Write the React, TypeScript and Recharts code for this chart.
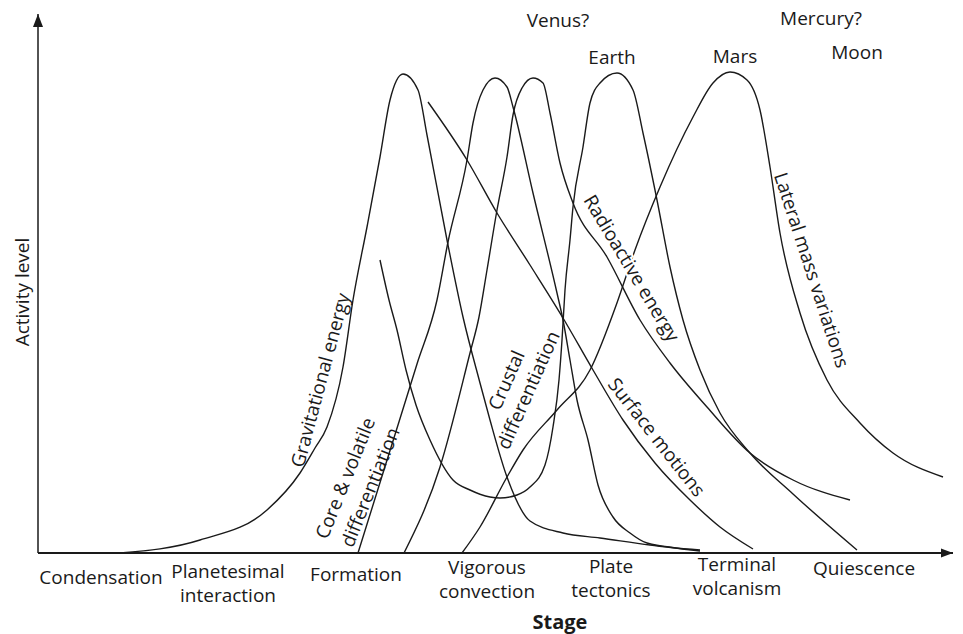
import React from 'react';
import { LineChart, Line, XAxis, YAxis, ReferenceDot, ReferenceLine } from 'recharts';

const FONT = '"Open Sans", "Noto Sans", sans-serif';
const INK = '#1a1a1a';
const SIZE = 19;

// stage runs 0..91.5, activity level 0..107.8 (arbitrary units)
const stages = [
  'Condensation',
  'Planetesimal\ninteraction',
  'Formation',
  'Vigorous\nconvection',
  'Plate\ntectonics',
  'Terminal\nvolcanism',
  'Quiescence'
];
const stageTicks = [6.3, 19.0, 31.8, 44.9, 57.3, 69.9, 82.6];

const gravitational = [
  [8.2, 0], [16.2, 2.6], [22.9, 8.6], [26.2, 16.0], [27.7, 21.0], [28.9, 25.2],
  [30.5, 37.2], [31.5, 50.6], [32.9, 65.2], [34.2, 79.2], [35.2, 90.6], [36.5, 95.8],
  [38.0, 92.6], [38.9, 83.6], [40.9, 62.6], [42.5, 47.2], [44.2, 34.0], [45.2, 26.6],
  [46.9, 15.2], [49.2, 6.4], [52.5, 4.0], [56.2, 3.0], [61.2, 1.6], [66.2, 0.4]
];

const coreVolatile = [
  [32.0, 0], [34.0, 12.8], [36.0, 25.6], [37.9, 37.8], [39.9, 50.6], [41.0, 62.2],
  [42.9, 78.6], [43.5, 86.0], [44.5, 92.6], [45.7, 95.0], [46.9, 93.2], [47.5, 89.2],
  [49.5, 72.0], [51.9, 52.0], [52.5, 46.6], [53.2, 38.6], [53.9, 30.6], [55.0, 22.6],
  [56.0, 13.6], [57.5, 7.2], [59.2, 4.0], [60.9, 2.0], [66.2, 0.6]
];

const radioactive = [
  [36.6, 0], [40.2, 17.2], [43.2, 40.0], [44.1, 47.2], [44.9, 56.6], [45.9, 68.6],
  [46.9, 79.2], [47.5, 87.6], [48.4, 93.0], [49.5, 95.0], [50.5, 94.0], [51.2, 88.0],
  [52.2, 78.0], [53.5, 70.0], [56.9, 59.2], [60.2, 46.6], [63.2, 38.0], [66.9, 29.2],
  [71.2, 20.0], [75.5, 14.6], [81.2, 10.6]
];

const surfaceMotions = [
  [39.0, 90.2], [42.9, 78.6], [45.9, 68.0], [49.2, 57.6], [52.5, 47.0], [55.5, 36.6],
  [58.5, 26.6], [61.7, 18.0], [65.2, 10.6], [68.2, 5.2], [71.5, 0.8]
];

const crustal = [
  [34.2, 58.6], [35.1, 50.6], [35.9, 44.6], [36.8, 36.6], [37.8, 29.6], [39.2, 22.6],
  [41.5, 14.6], [43.2, 12.6], [45.2, 11.2], [46.2, 11.0], [47.9, 11.6], [49.2, 13.2],
  [50.7, 17.6], [51.5, 25.2], [52.1, 34.6], [52.4, 42.6], [52.7, 52.6], [53.2, 62.6],
  [53.5, 69.2], [54.5, 81.2], [55.2, 90.0], [56.2, 94.0], [57.9, 96.0], [59.5, 92.6],
  [60.5, 84.0], [61.9, 70.6], [63.2, 57.2], [64.5, 46.6], [66.2, 36.6], [68.2, 28.0],
  [71.2, 20.0], [75.5, 11.8], [81.9, 0.6]
];

const lateralMass = [
  [42.4, 0], [44.2, 5.2], [46.9, 15.2], [48.5, 20.6], [51.9, 28.6], [55.2, 36.6],
  [58.0, 50.6], [59.7, 60.6], [62.2, 73.2], [65.5, 87.2], [67.5, 94.0], [69.2, 96.2],
  [70.9, 94.6], [72.2, 88.6], [73.2, 77.2], [74.2, 64.0], [76.2, 48.0], [78.9, 34.6],
  [82.2, 26.0], [85.5, 20.0], [90.5, 15.2]
];

const curves = [gravitational, coreVolatile, radioactive, surfaceMotions, crustal, lateralMass];

// curve labels: text, x, y, rotation
const curveLabels = [
  { text: 'Gravitational energy', x: 28.2, y: 34.6, angle: -75 },
  { text: 'Core & volatile', x: 30.7, y: 15.0, angle: -68 },
  { text: 'differentiation', x: 33.2, y: 13.2, angle: -68 },
  { text: 'Crustal', x: 46.8, y: 34.6, angle: -66 },
  { text: 'differentiation', x: 49.0, y: 32.6, angle: -66 },
  { text: 'Radioactive energy', x: 59.4, y: 57.0, angle: 59, halo: true },
  { text: 'Lateral mass variations', x: 77.4, y: 56.6, angle: 72 },
  { text: 'Surface motions', x: 61.9, y: 23.2, angle: 52 }
];

const planetLabels = [
  { text: 'Venus?', x: 52.0, y: 106.6 },
  { text: 'Mercury?', x: 78.3, y: 107.0 },
  { text: 'Earth', x: 57.4, y: 99.2 },
  { text: 'Mars', x: 69.7, y: 99.4 },
  { text: 'Moon', x: 81.9, y: 100.2 }
];

const toRows = (pts: number[][]) => pts.map(([x, y]) => ({ x, y }));

const StageTick = ({ x, y, payload }: any) => {
  const i = stageTicks.indexOf(payload.value);
  const lines = (stages[i] || '').split('\n');
  const tilt = -(x - 101) * 0.0118;
  const first = y + (lines.length > 1 ? 19 : 24) + tilt;
  return (
    <text textAnchor="middle" fontFamily={FONT} fontSize={SIZE} fill={INK}>
      {lines.map((l, k) => (
        <tspan key={k} x={x} y={first + k * 24} dominantBaseline="central">{l}</tspan>
      ))}
    </text>
  );
};

const rotatedText = (text: string, angle: number, extra: any = {}) => (p: any) => (
  <text
    x={p.cx}
    y={p.cy}
    transform={`rotate(${angle} ${p.cx} ${p.cy})`}
    textAnchor="middle"
    dominantBaseline="central"
    fontFamily={FONT}
    fontSize={SIZE}
    fill={INK}
    {...extra}
  >
    {text}
  </text>
);

export default function App() {
  return (
    <div style={{ position: 'absolute', left: 0, top: 0, background: '#fff' }}>
      <LineChart width={963} height={634} margin={{ top: 14, right: 10, bottom: 21, left: 38 }}>
        <XAxis
          type="number"
          dataKey="x"
          domain={[0, 91.5]}
          ticks={stageTicks}
          tick={<StageTick />}
          tickLine={false}
          tickSize={0}
          tickMargin={0}
          interval={0}
          height={60}
          axisLine={{ stroke: INK, strokeWidth: 1.8 }}
          allowDataOverflow
        />
        <YAxis type="number" dataKey="y" domain={[0, 107.8]} hide allowDataOverflow />
        <ReferenceLine x={0} stroke={INK} strokeWidth={1.5} ifOverflow="visible" />

        {curves.map((c, i) => (
          <Line
            key={i}
            data={toRows(c)}
            dataKey="y"
            type="monotone"
            stroke={INK}
            strokeWidth={1.4}
            dot={false}
            activeDot={false}
            isAnimationActive={false}
          />
        ))}

        {curveLabels.map((l, i) => (
          <ReferenceDot
            key={'c' + i}
            x={l.x}
            y={l.y}
            ifOverflow="visible"
            shape={rotatedText(
              l.text,
              l.angle,
              l.halo ? { stroke: '#fff', strokeWidth: 4, paintOrder: 'stroke' } : {}
            )}
          />
        ))}

        {planetLabels.map((l, i) => (
          <ReferenceDot key={'p' + i} x={l.x} y={l.y} ifOverflow="visible" shape={rotatedText(l.text, 0)} />
        ))}

        <ReferenceDot x={-1.6} y={52.2} ifOverflow="visible" shape={rotatedText('Activity level', -90)} />
        <ReferenceDot
          x={52.2}
          y={-13.6}
          ifOverflow="visible"
          shape={rotatedText('Stage', 0, { fontWeight: 'bold', fontSize: 20 })}
        />

        {/* arrow heads */}
        <ReferenceDot
          x={0}
          y={107.8}
          ifOverflow="visible"
          shape={(p: any) => (
            <polygon points={`${p.cx},${p.cy} ${p.cx - 5},${p.cy + 13} ${p.cx + 5},${p.cy + 13}`} fill={INK} />
          )}
        />
        <ReferenceDot
          x={91.5}
          y={0}
          ifOverflow="visible"
          shape={(p: any) => (
            <polygon points={`${p.cx},${p.cy} ${p.cx - 12},${p.cy - 4.5} ${p.cx - 12},${p.cy + 4.5}`} fill={INK} />
          )}
        />
      </LineChart>
    </div>
  );
}
